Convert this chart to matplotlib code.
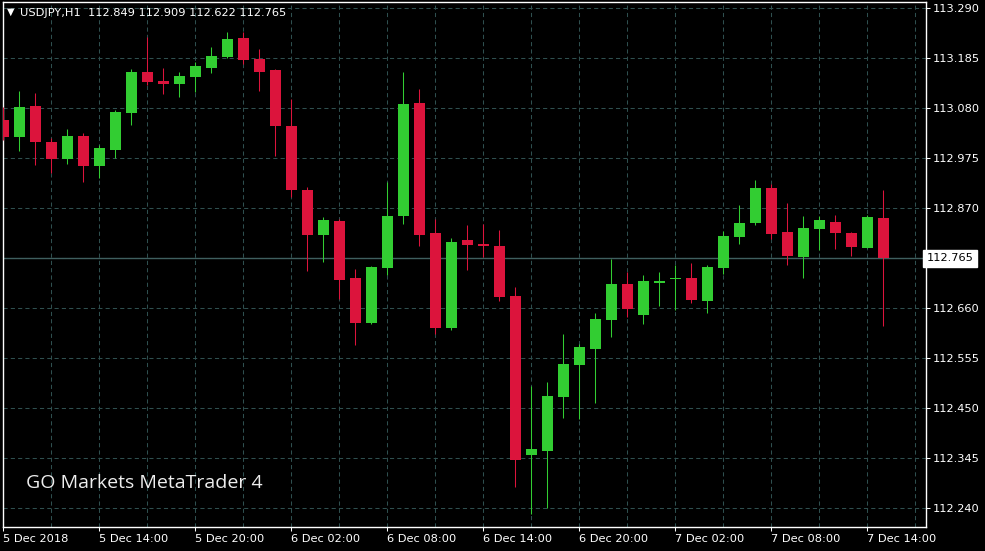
import matplotlib
matplotlib.use('Agg')
import matplotlib.pyplot as plt
import numpy as np

# USDJPY H1 candles, 5 Dec 2018 08:00 -> 7 Dec 2018 15:00
opens = [113.055, 113.020, 113.085, 113.009, 112.974, 113.022, 112.959, 112.992, 113.071, 113.156,
         113.137, 113.130, 113.146, 113.165, 113.188, 113.228, 113.184, 113.160, 113.043, 112.908,
         112.814, 112.843, 112.724, 112.629, 112.745, 112.854, 113.091, 112.818, 112.619, 112.803,
         112.795, 112.791, 112.686, 112.352, 112.360, 112.474, 112.541, 112.575, 112.635, 112.711,
         112.646, 112.713, 112.722, 112.724, 112.675, 112.745, 112.810, 112.839, 112.913, 112.820,
         112.768, 112.827, 112.841, 112.818, 112.787, 112.849]
highs = [113.083, 113.116, 113.112, 113.018, 113.037, 113.028, 113.002, 113.076, 113.163, 113.230,
         113.165, 113.156, 113.177, 113.209, 113.240, 113.240, 113.205, 113.163, 113.100, 112.915,
         112.852, 112.848, 112.743, 112.749, 112.925, 113.156, 113.121, 112.848, 112.808, 112.835,
         112.836, 112.824, 112.705, 112.497, 112.505, 112.607, 112.585, 112.650, 112.764, 112.736,
         112.730, 112.736, 112.751, 112.755, 112.751, 112.822, 112.877, 112.929, 112.921, 112.881,
         112.854, 112.854, 112.856, 112.820, 112.856, 112.909]
lows = [113.013, 112.991, 112.961, 112.945, 112.963, 112.925, 112.933, 112.976, 113.045, 113.129,
        113.110, 113.104, 113.114, 113.155, 113.185, 113.172, 113.116, 112.980, 112.894, 112.738,
        112.757, 112.680, 112.583, 112.627, 112.730, 112.838, 112.791, 112.606, 112.614, 112.740,
        112.768, 112.675, 112.285, 112.228, 112.241, 112.430, 112.428, 112.461, 112.600, 112.642,
        112.627, 112.665, 112.656, 112.671, 112.650, 112.732, 112.795, 112.835, 112.806, 112.751,
        112.724, 112.782, 112.785, 112.770, 112.787, 112.622]
closes = [113.020, 113.083, 113.010, 112.974, 113.022, 112.959, 112.997, 113.072, 113.156, 113.136,
          113.130, 113.148, 113.169, 113.190, 113.226, 113.182, 113.157, 113.043, 112.909, 112.814,
          112.845, 112.720, 112.629, 112.747, 112.854, 113.089, 112.814, 112.619, 112.799, 112.793,
          112.791, 112.684, 112.342, 112.365, 112.476, 112.543, 112.579, 112.638, 112.711, 112.659,
          112.717, 112.717, 112.724, 112.677, 112.747, 112.812, 112.839, 112.913, 112.816, 112.770,
          112.829, 112.845, 112.818, 112.789, 112.852, 112.765]

tick_pos = [0, 6, 12, 18, 24, 30, 36, 42, 48, 54]
tick_labels = ['5 Dec 2018', '5 Dec 14:00', '5 Dec 20:00', '6 Dec 02:00', '6 Dec 08:00',
               '6 Dec 14:00', '6 Dec 20:00', '7 Dec 02:00', '7 Dec 08:00', '7 Dec 14:00']
price_ticks = [112.240, 112.345, 112.450, 112.555, 112.660, 112.765,
               112.870, 112.975, 113.080, 113.185, 113.290]

symbol = 'USDJPY,H1'
GREEN = '#32cd32'
RED = '#dc143c'
GRID = '#2f4f4f'

o, h, l, c = map(np.array, (opens, highs, lows, closes))
x = np.arange(len(o))

fig = plt.figure(figsize=(9.85, 5.51), dpi=100, facecolor='black')
W, H = 985, 551
ax = fig.add_axes([2.5 / W, 23.7 / H, 923 / W, 525 / H], facecolor='black')

# grid
for p in price_ticks:
    ax.axhline(p, color=GRID, lw=0.75, ls=(0, (4, 3)), zorder=1)
for i in range(3, 58, 3):
    ax.axvline(i, color=GRID, lw=0.75, ls=(0, (4, 3)), zorder=1)

# last price line
ax.axhline(c[-1], color='#3f5f5f', lw=1, zorder=2)

# candles
up = c >= o
cols = np.where(up, GREEN, RED)
ax.vlines(x, l, h, colors=cols, lw=0.75, zorder=3)
body_bottom = np.minimum(o, c)
body_h = np.maximum(np.abs(c - o), 0.0021)
ax.bar(x, body_h, width=0.6875, bottom=body_bottom, color=cols, linewidth=0, zorder=4)

ax.set_xlim(-0.05, -0.05 + 923 / 16)
ytop = 113.290 + 6 * 0.0021
ax.set_ylim(ytop - 525 * 0.0021, ytop)

for s in ax.spines.values():
    s.set_color('white')
    s.set_linewidth(1)

# the last price box covers its own level on the price scale
ax.yaxis.tick_right()
ax.set_yticks(price_ticks)
ax.set_yticklabels(['' if abs(p - c[-1]) < 1e-6 else f'{p:.3f}' for p in price_ticks])
ax.tick_params(axis='y', colors='white', length=3, width=0.75, labelsize=8.2, pad=2)
ax.set_xticks(tick_pos)
ax.set_xticklabels(tick_labels, ha='left')
ax.tick_params(axis='x', colors='white', length=3, width=0.75, labelsize=8.2, pad=2)

# current price box
ax.text(1.0015, c[-1], f'{c[-1]:.3f}', transform=ax.get_yaxis_transform(),
        ha='left', va='center', fontsize=8.2, color='black', clip_on=False, zorder=10,
        bbox=dict(boxstyle='square,pad=0.3', fc='white', ec='white'))

# header
fig.text(10.5 / W, 1 - 12 / H, '\u25bc', color='white', fontsize=7, ha='center', va='center')
fig.text(20.5 / W, 1 - 12.5 / H,
         f'{symbol}  {o[-1]:.3f} {h[-1]:.3f} {l[-1]:.3f} {c[-1]:.3f}',
         color='white', fontsize=8.2, ha='left', va='center')

# watermark
fig.text(26 / W, 1 - 483 / H, 'GO Markets MetaTrader 4', color='#eeeeee',
         fontsize=14, family='Open Sans', ha='left', va='center')

fig.savefig('out.png', dpi=100, facecolor='black')
